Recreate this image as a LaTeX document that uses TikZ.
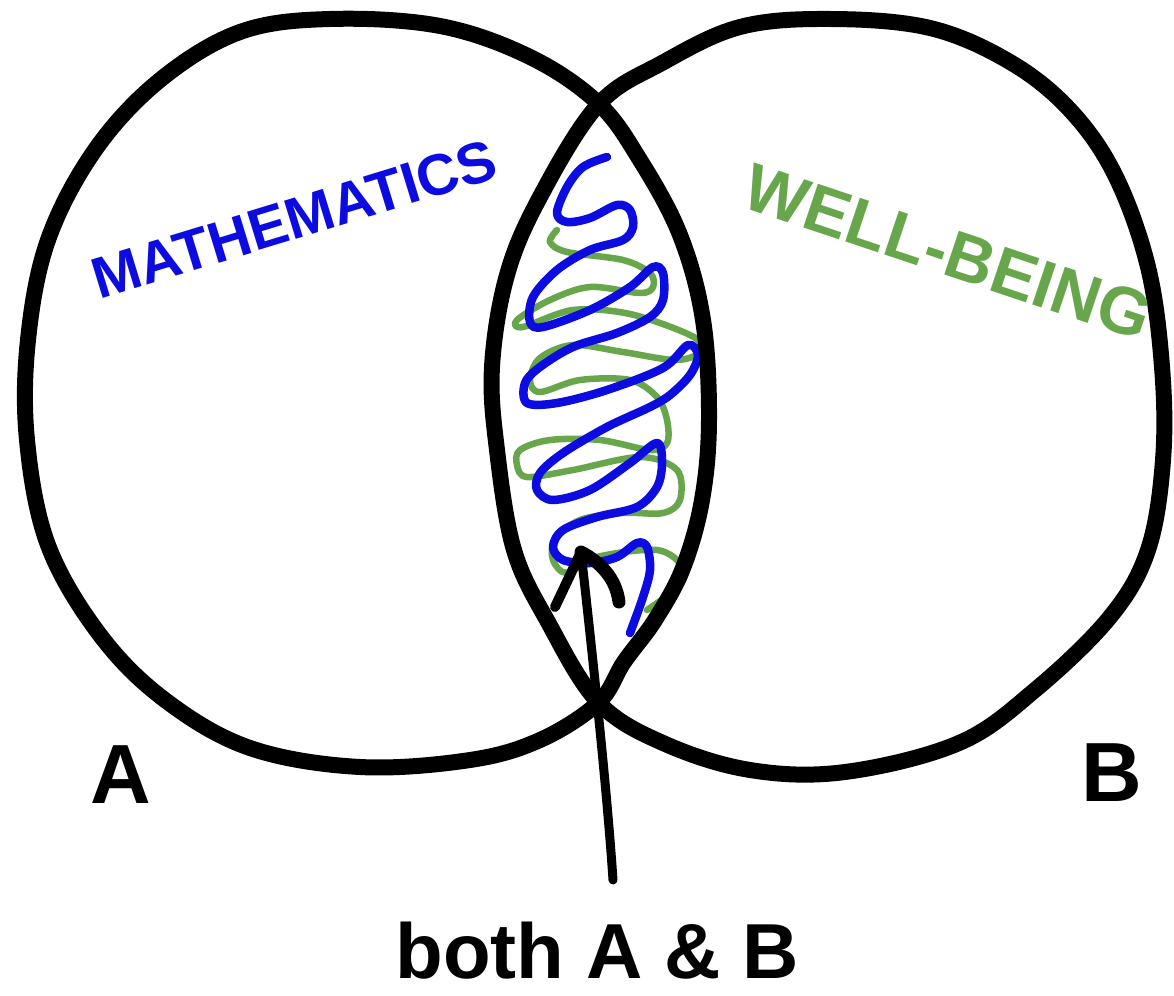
\documentclass[tikz,border=0pt]{standalone}
\usepackage{fontspec}
\setmainfont{Liberation Sans}
\definecolor{mblue}{RGB}{12,12,225}
\definecolor{mgreen}{RGB}{104,166,76}
\begin{document}
\begin{tikzpicture}[x=1pt,y=-1pt,
  ring/.style={line width=16pt, line join=round, line cap=round},
  bluecoil/.style={mblue, line width=8.5pt, line cap=round, line join=round},
  greencoil/.style={mgreen, line width=6.5pt, line cap=round, line join=round},
  hand/.style={font=\bfseries\fontsize{84}{84}\selectfont, inner sep=0pt},
  ink/.style={line cap=round, line join=round}
]
\useasboundingbox[fill=white] (0,0) rectangle (1174,995);

% green coil (behind blue)
\draw[greencoil] plot[smooth, tension=0.55] coordinates {
 (557,230) (550,242) (567,252) (623,260) (650,273) (653,287) (640,293) (590,287)
 (550,300) (517,320) (523,327) (573,310) (630,314) (690,335) (703,350) (677,360)
 (623,352) (573,345) (540,358) (530,380) (540,392) (580,380) (630,380) (657,397)
 (667,420) (667,443) (650,450) (600,440) (550,440) (520,450) (517,465) (527,477)
 (573,470) (640,457) (677,470) (680,500) (663,513) (623,513) (580,520) (555,540)
 (553,560) (567,573) (597,557) (657,550) (683,567) (680,585) (647,610)};

% blue coil
\draw[bluecoil] plot[smooth, tension=0.55] coordinates {
 (607,157) (583,167) (567,187) (557,213) (567,222) (590,218) (617,205) (630,210)
 (633,227) (623,240) (590,250) (557,270) (533,297) (530,322) (543,327) (590,310)
 (630,287) (653,267) (663,273) (663,300) (650,317) (617,333) (573,347) (540,367)
 (525,383) (527,403) (557,403) (607,390) (663,368) (688,345) (698,355) (690,375)
 (670,395) (650,407) (607,427) (563,453) (540,473) (537,490) (553,500) (590,490)
 (630,463) (657,443) (662,463) (657,487) (637,507) (597,517) (563,530) (553,547)
 (563,560) (590,563) (617,557) (637,543) (647,547) (650,570) (643,597) (630,633)};

% circle A
\draw[ring] plot[smooth cycle, tension=0.6] coordinates {
 (598,103) (530,57) (440,26) (330,19) (240,32) (160,80) (95,150) (48,240)
 (28,340) (27,440) (48,545) (100,635) (165,700) (250,748) (360,767) (470,760)
 (540,740) (598,703) (624,662) (655,620) (683,568) (702,500) (709,420)
 (703,320) (680,235) (640,160)};

% circle B
\draw[ring] plot[smooth cycle, tension=0.6] coordinates {
 (598,105) (662,63) (740,27) (830,19) (930,28) (1010,62) (1070,110) (1115,175)
 (1148,267) (1162,367) (1163,460) (1148,550) (1110,617) (1035,690) (959,743)
 (845,772) (750,770) (663,743) (598,702) (548,622) (514,550) (497,450)
 (492,367) (507,275) (540,197)};

% labels
\node[hand] (A) at (121,775) {A};
\node[hand] (B) at (1112,773) {B};
\node[hand, mblue, rotate=17, font=\bfseries\fontsize{58}{58}\selectfont] (math) at (294,219) {MATHEMATICS};
\node[hand, mgreen, rotate=-18.5, font=\bfseries\fontsize{67}{67}\selectfont] (well) at (948,252) {WELL-BEING};
\node[hand, font=\bfseries\fontsize{78}{78}\selectfont, anchor=base] (both) at (597,978) {both A \& B};

% arrow
\coordinate (tip) at (581,552);
\coordinate (tail) at (613,880);
\draw[ink, line width=9pt] (tail) .. controls (607,790) and (592,650) .. (tip);
\draw[ink, line width=10pt] (tip) -- (555,607);
\draw[ink, line width=13pt] (tip) .. controls (600,562) and (616,578) .. (619,602);
\end{tikzpicture}
\end{document}
